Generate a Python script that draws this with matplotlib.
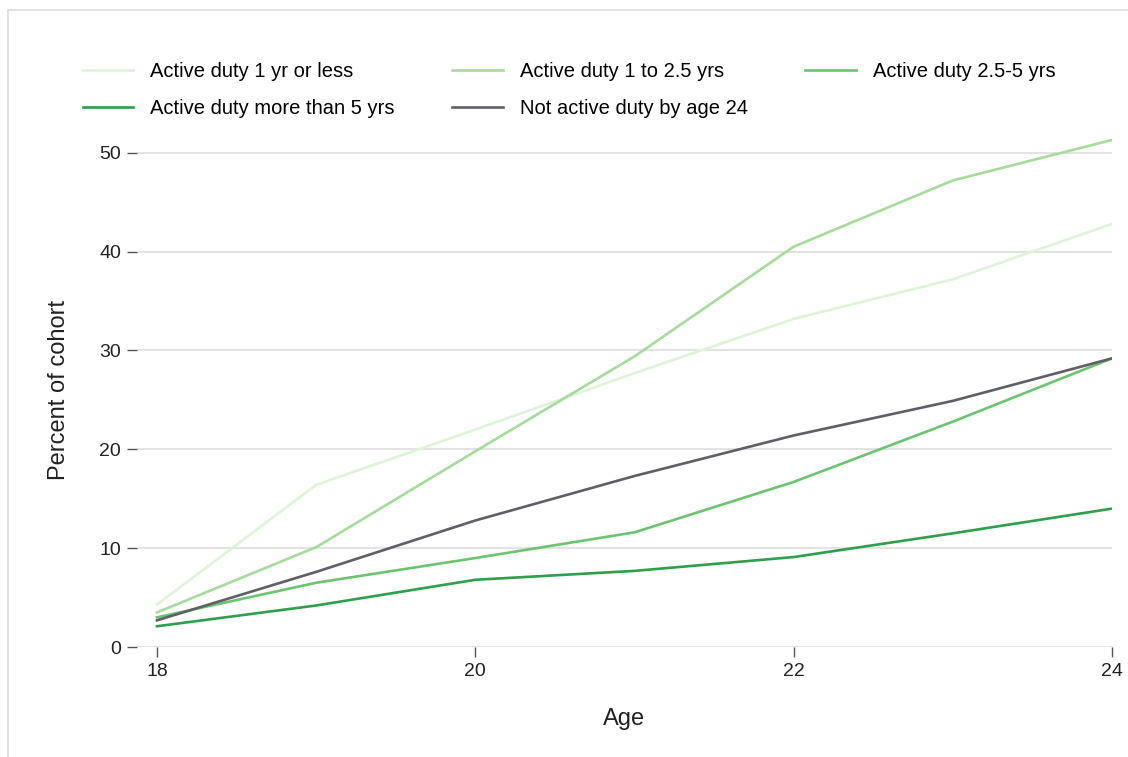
import matplotlib.pyplot as plt
from matplotlib.patches import Rectangle

plt.rcParams['font.family'] = ['Liberation Sans', 'DejaVu Sans']

ages = [18, 19, 20, 21, 22, 23, 24]
le1 = [4.3, 16.4, 22.0, 27.7, 33.2, 37.2, 42.8]
one_to_25 = [3.5, 10.1, 19.8, 29.4, 40.5, 47.2, 51.3]
two5_to_5 = [3.0, 6.5, 9.0, 11.6, 16.7, 22.8, 29.2]
more5 = [2.1, 4.2, 6.8, 7.7, 9.1, 11.5, 14.0]
not_active = [2.7, 7.6, 12.8, 17.3, 21.4, 24.9, 29.2]

labels = ["Active duty 1 yr or less", "Active duty 1 to 2.5 yrs",
          "Active duty 2.5-5 yrs", "Active duty more than 5 yrs",
          "Not active duty by age 24"]
colors = ["#e1f2dc", "#a6db9c", "#6cc470", "#2e9f4b", "#5f5f66"]
series = [le1, one_to_25, two5_to_5, more5, not_active]

fig = plt.figure(figsize=(11.28, 7.57), dpi=100)
fig.patches.append(Rectangle((8 / 1128, -0.1), 1.2, (757 - 10) / 757 + 0.1,
                             transform=fig.transFigure, fill=False,
                             edgecolor="#dddddd", linewidth=1.2))
ax = fig.add_axes([137 / 1128, 1 - 647 / 757, (1112 - 137) / 1128, (647 - 133) / 757])

lines = []
for s, c, lab in zip(series, colors, labels):
    ln, = ax.plot(ages, s, color=c, lw=1.9, label=lab)
    lines.append(ln)

ax.set_xlim(18 - 20 / 159.2, 24)
ax.set_ylim(0, 52)
ax.set_xticks([18, 20, 22, 24])
ax.set_yticks([0, 10, 20, 30, 40, 50])
ax.grid(axis='y', color='#e3e3e3', lw=1.5)
ax.set_axisbelow(True)
for sp in ax.spines.values():
    sp.set_visible(False)
ax.tick_params(axis='both', colors='#555555', labelcolor='#222222', labelsize=14,
               length=7.5, width=1, pad=4)
ax.set_xlabel("Age", fontsize=17, color='#222222', labelpad=20)
ax.set_ylabel("Percent of cohort", fontsize=17, color='#222222', labelpad=21)

order = [0, 3, 1, 4, 2]
fig.legend([lines[i] for i in order], [labels[i] for i in order], ncol=3,
           frameon=False, fontsize=14.5, handlelength=2.5, handletextpad=0.85,
           columnspacing=2.85, labelspacing=0.9, borderpad=0, borderaxespad=0,
           loc='upper left', bbox_to_anchor=(83 / 1128, 1 - 62 / 757),
           bbox_transform=fig.transFigure)

fig.savefig("out.png", dpi=100)
